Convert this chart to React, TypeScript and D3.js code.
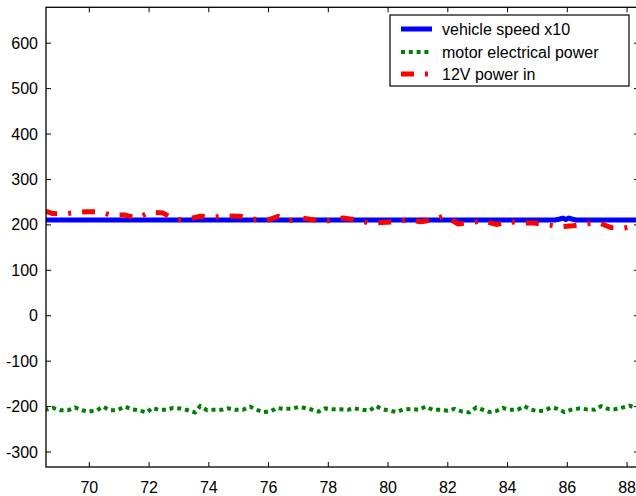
import React from "react";
import * as d3 from "d3";

// Time axis (s) and series values
const speedT = [68.4, 85.6, 85.75, 85.85, 85.95, 86.05, 86.15, 86.3, 88.5];
const speedX10 = [211, 211, 213, 215, 212, 215, 213, 211, 211];

const motorT = [
  68.5, 68.62, 68.78, 69.02, 69.29, 69.52, 69.76, 69.99, 70.26, 70.46, 70.69, 70.93,
  71.2, 71.43, 71.63, 71.93, 72.1, 72.33, 72.6, 72.8, 73.04, 73.3, 73.54, 73.71,
  73.94, 74.14, 74.44, 74.64, 74.88, 75.14, 75.38, 75.61, 75.81, 76.05, 76.28, 76.48,
  76.78, 76.99, 77.22, 77.46, 77.68, 77.9, 78.15, 78.39, 78.65, 78.88, 79.15, 79.38,
  79.6, 79.82, 80.07, 80.29, 80.51, 80.77, 81.03, 81.25, 81.5, 81.74, 82.0, 82.22,
  82.48, 82.72, 82.95, 83.17, 83.39, 83.62, 83.84, 84.06, 84.34, 84.56, 84.79, 85.01,
  85.23, 85.46, 85.68, 85.9, 86.13, 86.4, 86.63, 86.91, 87.13, 87.36, 87.58, 87.8,
  88.08, 88.25, 88.5,
];
const motorPower = [
  -207, -206, -203, -208, -208, -202, -208, -211, -208, -200, -208, -208,
  -200, -206, -208, -213, -203, -207, -207, -203, -204, -208, -213, -199,
  -208, -207, -207, -204, -207, -207, -200, -207, -212, -211, -203, -205,
  -205, -201, -203, -207, -211, -204, -206, -206, -207, -204, -207, -209,
  -199, -206, -209, -212, -206, -205, -207, -200, -207, -207, -209, -205,
  -211, -213, -202, -207, -212, -210, -203, -207, -207, -199, -207, -210,
  -209, -202, -205, -212, -207, -204, -206, -207, -199, -205, -206, -203,
  -198, -202, -203,
];

const powerT = [
  68.5, 68.58, 68.78, 69.02, 69.42, 69.89, 70.36, 70.69, 71.16, 71.6, 72.03, 72.47,
  72.87, 73.3, 73.71, 74.14, 74.61, 75.04, 75.48, 75.92, 76.32, 76.68, 77.15, 77.59,
  78.02, 78.49, 78.93, 79.36, 79.8, 80.23, 80.7, 81.1, 81.5, 81.88, 82.35, 82.78,
  83.18, 83.62, 84.08, 84.52, 84.89, 85.36, 85.79, 86.19, 86.63, 87.03, 87.47, 87.9,
  88.3, 88.5,
];
const power12V = [
  230, 229, 225, 224, 226, 229, 229, 222, 222, 215, 228, 226,
  211, 213, 219, 217, 220, 219, 213, 209, 219, 209, 215, 210,
  209, 215, 211, 204, 205, 207, 211, 207, 211, 220, 202, 205,
  209, 201, 207, 204, 204, 200, 196, 198, 202, 205, 194, 193,
  198, 195,
];

const xTicks = [70, 72, 74, 76, 78, 80, 82, 84, 86, 88];
const yTicks = [-300, -200, -100, 0, 100, 200, 300, 400, 500, 600];
const legendLabels = ["vehicle speed x10", "motor electrical power", "12V power in"];

const W = 636;
const H = 496;
const left = 46;
const right = 639;
const top = 7.3;
const bottom = 467;
const font = "'Liberation Sans', Arial, Helvetica, sans-serif";

export default function App() {
  const x = d3.scaleLinear().domain([68.55, 88.4]).range([left, right]);
  const y = d3.scaleLinear().domain([-333, 679]).range([bottom, top]);

  const line = d3
    .line<[number, number]>()
    .x((d) => x(d[0]))
    .y((d) => y(d[1]));

  const speedPath = line(speedT.map((t, i) => [t, speedX10[i]]));
  const motorPath = line(motorT.map((t, i) => [t, motorPower[i]]));
  const powerPath = line(powerT.map((t, i) => [t, power12V[i]]));

  const series = [
    { color: "#0000ff", width: 5, dash: undefined as string | undefined },
    { color: "#008000", width: 4, dash: "4,3.8" },
    { color: "#ff0000", width: 5, dash: "13,11,3,11" },
  ];

  const tickLen = 5;
  const legX = 390;
  const legY = 15;
  const legW = 239;
  const legH = 71;
  const rowY = [29, 52, 74];

  return (
    <svg
      width={W}
      height={H}
      style={{ position: "absolute", left: 0, top: 0, background: "#fff" }}
    >
      <defs>
        <clipPath id="plot-clip">
          <rect x={left} y={top} width={right - left} height={bottom - top} />
        </clipPath>
      </defs>

      <g clipPath="url(#plot-clip)">
        <path d={speedPath ?? ""} fill="none" stroke={series[0].color} strokeWidth={series[0].width} />
        <path
          d={motorPath ?? ""}
          fill="none"
          stroke={series[1].color}
          strokeWidth={series[1].width}
          strokeDasharray={series[1].dash}
        />
        <path
          d={powerPath ?? ""}
          fill="none"
          stroke={series[2].color}
          strokeWidth={series[2].width}
          strokeDasharray={series[2].dash}
          strokeLinejoin="round"
        />
      </g>

      {/* frame */}
      <rect
        x={left}
        y={top}
        width={right - left}
        height={bottom - top}
        fill="none"
        stroke="#000"
        strokeWidth={1.3}
      />

      {/* x ticks, bottom and top, pointing inward */}
      {xTicks.map((t) => (
        <g key={`x${t}`}>
          <line x1={x(t)} x2={x(t)} y1={bottom} y2={bottom - tickLen} stroke="#000" strokeWidth={1} />
          <line x1={x(t)} x2={x(t)} y1={top} y2={top + tickLen} stroke="#000" strokeWidth={1} />
          <text
            x={x(t)}
            y={493}
            textAnchor="middle"
            fontFamily={font}
            fontSize={16}
            fill="#000"
          >
            {t}
          </text>
        </g>
      ))}

      {/* y ticks, left and right, pointing inward */}
      {yTicks.map((t) => (
        <g key={`y${t}`}>
          <line x1={left} x2={left + tickLen} y1={y(t)} y2={y(t)} stroke="#000" strokeWidth={1} />
          <line x1={right} x2={right - tickLen} y1={y(t)} y2={y(t)} stroke="#000" strokeWidth={1} />
          <text
            x={38}
            y={y(t) + 5.5}
            textAnchor="end"
            fontFamily={font}
            fontSize={16}
            fill="#000"
          >
            {t}
          </text>
        </g>
      ))}

      {/* legend */}
      <rect x={legX} y={legY} width={legW} height={legH} fill="#fff" stroke="#000" strokeWidth={1.2} />
      {legendLabels.map((label, i) => (
        <g key={label}>
          <line
            x1={401}
            x2={432}
            y1={rowY[i]}
            y2={rowY[i]}
            stroke={series[i].color}
            strokeWidth={series[i].width}
            strokeDasharray={series[i].dash}
          />
          <text
            x={442}
            y={rowY[i] + 5.5}
            fontFamily={font}
            fontSize={16}
            fill="#000"
          >
            {label}
          </text>
        </g>
      ))}
    </svg>
  );
}
